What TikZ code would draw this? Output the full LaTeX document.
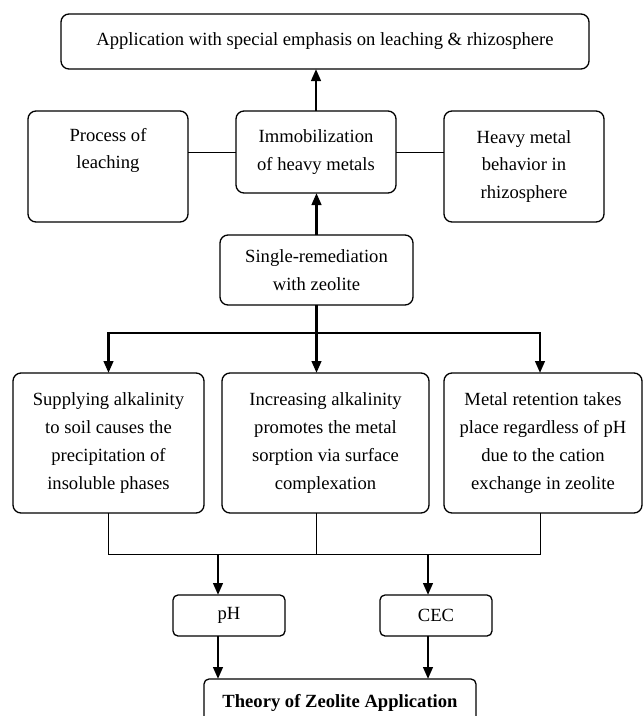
\documentclass[tikz,border=0pt]{standalone}
\usepackage{fontspec}
\setmainfont{Liberation Serif}
\usetikzlibrary{arrows.meta, positioning, calc}

\begin{document}
\begin{tikzpicture}[x=1pt, y=-1pt,
    font=\fontsize{18.6}{27.8}\selectfont,
    box/.style={draw, line width=1.3pt, rounded corners=8pt, align=center,
                inner sep=0pt, outer sep=0pt},
    smallbox/.style={box, rounded corners=5pt, minimum width=112pt, minimum height=41pt},
    joint/.style={line width=1pt},
    flow/.style={-{Triangle[length=12pt, width=9.5pt]}, line width=2.6pt}
  ]
    \useasboundingbox (0,0) rectangle (644,716);
    \clip (0,0) rectangle (644,716);
    \node[box, minimum width=528pt, minimum height=55pt] (app) at (325,41.5)
        {Application with special emphasis on leaching \& rhizosphere};
    \node[box, minimum width=160pt, minimum height=111pt] (leach) at (108,166.5) {Process of\\leaching\\\strut};
    \node[box, minimum width=160pt, minimum height=82pt] (immob) at (316,152) {Immobilization\\of heavy metals};
    \node[box, minimum width=160pt, minimum height=111pt] (heavy) at (524,166.5) {Heavy metal\\behavior in\\rhizosphere};
    \node[box, minimum width=193pt, minimum height=70pt] (single) at (316.5,270) {Single-remediation\\with zeolite};
    \node[box, minimum width=191pt, minimum height=140pt] (alk) at (108.5,443)
        {Supplying alkalinity\\to soil causes the\\precipitation of\\insoluble phases};
    \node[box, minimum width=207pt, minimum height=140pt] (sorp) at (325.5,443)
        {Increasing alkalinity\\promotes the metal\\sorption via surface\\complexation};
    \node[box, minimum width=198pt, minimum height=140pt] (ret) at (543,443)
        {Metal retention takes\\place regardless of pH\\due to the cation\\exchange in zeolite};
    \node[smallbox] (ph) at (229,615.5) {pH};
    \node[smallbox] (cec) at (436,615.5) {CEC};
    \node[box, rounded corners=5pt, minimum width=272pt, minimum height=48pt, anchor=north] (theory) at (340,679)
        {\bfseries Theory of Zeolite Application};
    % upper part
    \draw[flow] (immob.north) -- (immob.north |- app.south);
    \draw[flow] (single.north) -- (single.north |- immob.south);
    \draw[joint] (immob.west) -- (immob.west -| leach.east);
    \draw[joint] (immob.east) -- (immob.east -| heavy.west);
    % split to the three effects
    \coordinate (split) at (316.5,333);
    \coordinate (br) at (540,333);
    \draw[flow] (single.south) -- (single.south |- sorp.north);
    \draw[flow] (split) -| (alk.north);
    \draw[flow] (split) -| (br |- ret.north);
    % join below the three effects
    \coordinate (jl) at (108,554);
    \coordinate (jr) at (540,554);
    \draw[joint] (alk.south) -- (alk.south |- jl) -- (jr) -- (jr |- ret.south);
    \draw[joint] (single |- sorp.south) -- (single |- jl);
    \coordinate (pa) at (218,554);
    \coordinate (ca) at (428,554);
    \draw[flow] (pa) -- (pa |- ph.north);
    \draw[flow] (ca) -- (ca |- cec.north);
    \draw[flow] (pa |- ph.south) -- (pa |- theory.north);
    \draw[flow] (ca |- cec.south) -- (ca |- theory.north);
\end{tikzpicture}
\end{document}
